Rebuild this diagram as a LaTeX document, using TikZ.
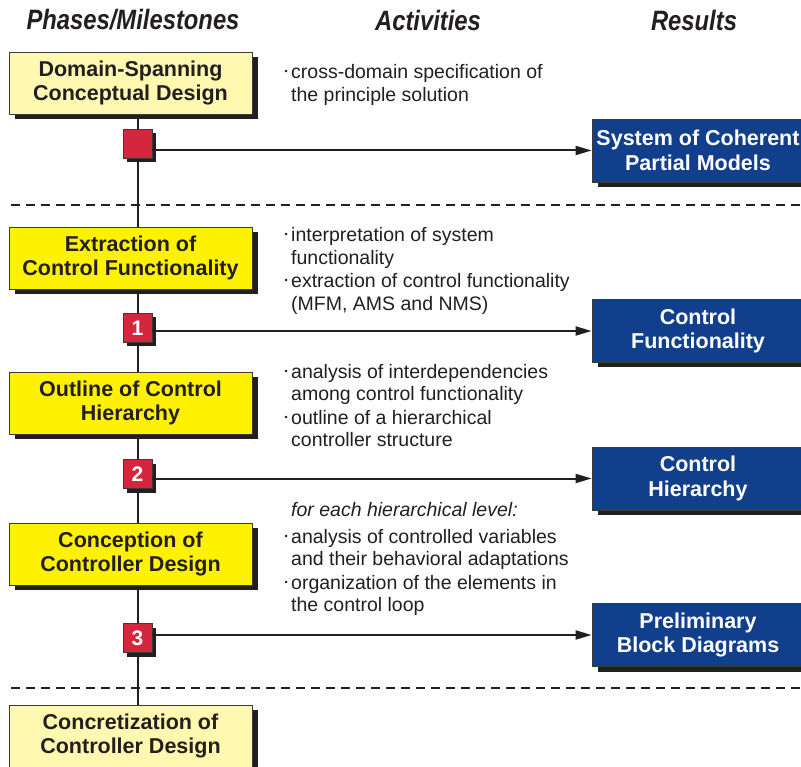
\documentclass[tikz,border=0pt]{standalone}
\usepackage{fontspec}
\setmainfont{Liberation Sans}
\usetikzlibrary{shadows,arrows.meta,backgrounds}

\definecolor{ink}{HTML}{231F20}
\definecolor{paleyellow}{HTML}{FFF8B0}
\definecolor{brightyellow}{HTML}{FFF200}
\definecolor{milered}{HTML}{D4263C}
\definecolor{resultblue}{HTML}{123F8C}
\definecolor{edgegray}{HTML}{3A3A3A}

\pgfdeclarelayer{paper}
\pgfsetlayers{paper,background,main}

\newcommand{\bul}{\llap{\raisebox{4pt}{\fontsize{9}{9}\selectfont •}\hspace{3.5pt}}}

\begin{document}
\begin{tikzpicture}[x=1pt,y=-1pt,
  heading/.style={font=\fontsize{28}{30}\selectfont\bfseries\itshape, text=ink, inner sep=0pt},
  phasebox/.style={draw=edgegray, line width=0.8pt, minimum width=243pt, minimum height=62pt,
    inner sep=0pt, align=center, text=ink,
    font=\fontsize{21.5}{24.7}\selectfont\bfseries,
    drop shadow={shadow xshift=6pt, shadow yshift=-5pt, fill=ink, opacity=1}},
  phasepale/.style={phasebox, fill=paleyellow},
  phasebright/.style={phasebox, fill=brightyellow},
  milestone/.style={draw=edgegray, line width=0.8pt, fill=milered, minimum size=29pt,
    inner sep=0pt, text=white, font=\fontsize{21}{21}\selectfont\bfseries,
    drop shadow={shadow xshift=4pt, shadow yshift=-4pt, fill=ink, opacity=1}},
  result/.style={draw=edgegray, line width=0.8pt, fill=resultblue, minimum width=212pt,
    minimum height=63pt, inner sep=0pt, align=center, text=white,
    font=\fontsize{21.5}{24.7}\selectfont\bfseries,
    drop shadow={shadow xshift=6pt, shadow yshift=-5pt, fill=ink, opacity=1}},
  activity/.style={anchor=base west, inner sep=0pt, align=left, text=ink,
    font=\fontsize{19.5}{22.5}\selectfont},
  spine/.style={draw=ink, line width=2pt},
  flow/.style={draw=ink, line width=2pt, -{Triangle[length=16pt,width=9pt]}},
  separator/.style={draw=ink, line width=2pt, dash pattern=on 9pt off 6pt}
]
\useasboundingbox (0,0) rectangle (801,767);
\begin{pgfonlayer}{paper}
  \fill[white] (0,0) rectangle (801,767);
\end{pgfonlayer}

% column headings
\node[heading] (hphase) at (133,20) {\scalebox{0.85}[1]{Phases/Milestones}};
\node[heading] (hact)   at (428,20) {\scalebox{0.85}[1]{Activities}};
\node[heading] (hres)   at (694,20) {\scalebox{0.85}[1]{Results}};

% phases
\node[phasepale]   (p0) at (130.5,83)  {Domain-Spanning\\Conceptual Design};
\node[phasebright] (p1) at (130.5,258) {Extraction of\\Control Functionality};
\node[phasebright] (p2) at (130.5,403) {Outline of Control\\Hierarchy};
\node[phasebright] (p3) at (130.5,554) {Conception of\\Controller Design};
\node[phasepale]   (p4) at (130.5,736) {Concretization of\\Controller Design};

% milestones
\node[milestone] (m0) at (137.5,144) {};
\node[milestone] (m1) at (137.5,328) {1};
\node[milestone] (m2) at (137.5,474) {2};
\node[milestone] (m3) at (137.5,638) {3};

% results
\node[result] (r0) at (698,150.5) {System of Coherent\\Partial Models};
\node[result] (r1) at (698,331)   {Control\\Functionality};
\node[result] (r2) at (698,478.5) {Control\\Hierarchy};
\node[result] (r3) at (698,635)   {Preliminary\\Block Diagrams};

% vertical process line
\begin{pgfonlayer}{background}
  \draw[spine] (m0 |- p0.south) -- (m0 |- p4.north);
\end{pgfonlayer}

% milestone to result
\draw[flow] (m0.east |- r0.west) -- (r0.west);
\draw[flow] (m1.east |- r1.west) -- (r1.west);
\draw[flow] (m2.east |- r2.west) -- (r2.west);
\draw[flow] (m3.east |- r3.west) -- (r3.west);

% stage separators
\coordinate (s1a) at (11,205);
\coordinate (s1b) at (801,205);
\coordinate (s2a) at (11,688);
\coordinate (s2b) at (801,688);
\draw[separator] (s1a) -- (s1b);
\draw[separator] (s2a) -- (s2b);

% activities (each node placed at the baseline of its last line)
\node[activity] (a0) at (291,101.5) {\bul cross-domain specification of\\the principle solution};
\node[activity] (a1) at (291,264.5) {\bul interpretation of system\\functionality};
\node[activity] (a2) at (291,310.5) {\bul extraction of control functionality\\(MFM, AMS and NMS)};
\node[activity] (a3) at (291,400.5) {\bul analysis of interdependencies\\among control functionality};
\node[activity] (a4) at (291,446.5) {\bul outline of a hierarchical\\controller structure};
\node[activity] (a5) at (291,516)   {\itshape for each hierarchical level:};
\node[activity] (a6) at (291,565.5) {\bul analysis of controlled variables\\and their behavioral adaptations};
\node[activity] (a7) at (291,611.5) {\bul organization of the elements in\\the control loop};
\end{tikzpicture}
\end{document}
